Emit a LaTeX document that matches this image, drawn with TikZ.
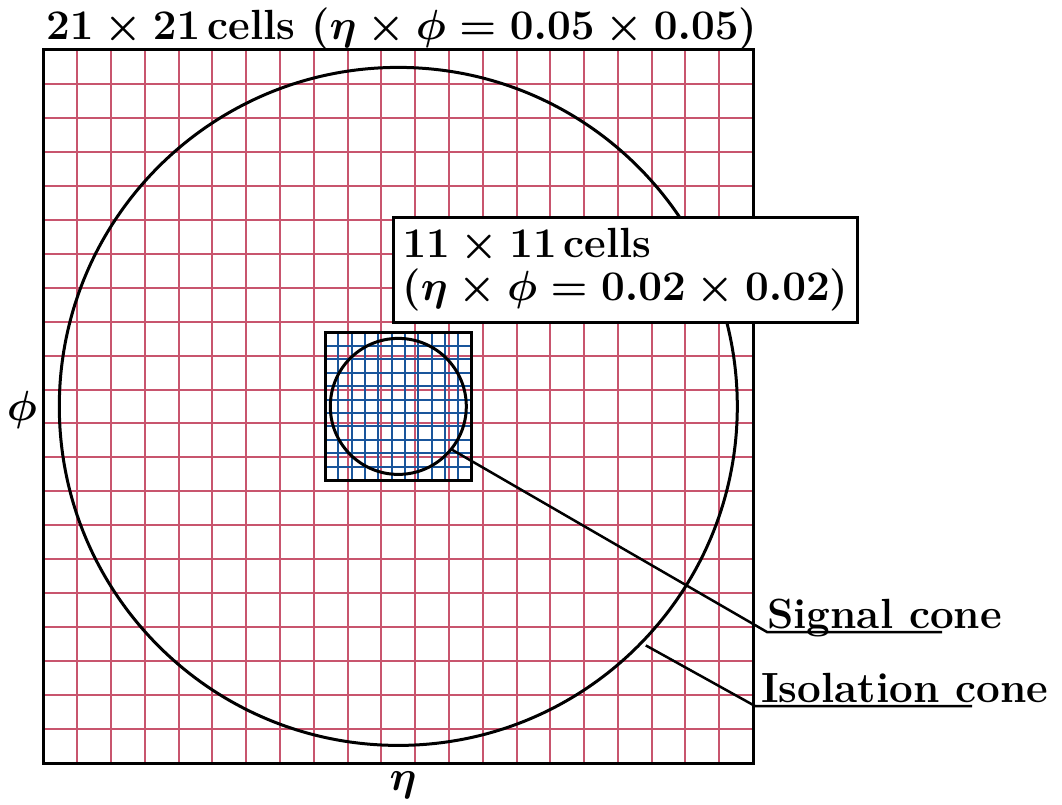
\RequirePackage{fix-cm}
\documentclass[tikz,border=0pt]{standalone}
\DeclareMathSizes{42.2}{42.2}{29.5}{21}
\usetikzlibrary{calc}
\definecolor{gridred}{RGB}{200,85,110}
\definecolor{gridblue}{RGB}{25,85,155}
\begin{document}
\begin{tikzpicture}[x=1pt,y=-1pt,
  redline/.style={draw=gridred,line width=2pt},
  blueline/.style={draw=gridblue,line width=2pt},
  blackline/.style={draw=black,line width=3pt},
  lbl/.style={font=\fontsize{42.2}{43}\selectfont\bfseries\boldmath,inner sep=0pt},
  cone/.style={circle,draw=black,line width=3pt,inner sep=0pt,outer sep=0pt}]
\useasboundingbox (0,0) rectangle (1062,805);
% outer grid
\coordinate (ob) at (43.5,50);
\coordinate (oe) at (753,763);
\coordinate (c) at (398.3,406.4);
\foreach \i in {1,...,20}{
  \draw[redline] ({43.5+\i*709.5/21},50) -- ({43.5+\i*709.5/21},763);
  \draw[redline] (43.5,{50+\i*713/21}) -- (753,{50+\i*713/21});
}
% inner grid
\foreach \i in {1,...,10}{
  \draw[blueline] ({325+\i*146.7/11},332.7) -- ({325+\i*146.7/11},480);
  \draw[blueline] (325,{332.7+\i*147.3/11}) -- (471.7,{332.7+\i*147.3/11});
}
\draw[blackline] (325,332.7) rectangle (471.7,480);
\draw[blackline] (ob) rectangle (oe);
% cones
\node[cone,minimum size=678pt] (iso) at (c) {};
\node[cone,minimum size=136pt] (sig) at (c) {};
% labels
\node[lbl,anchor=base west] (title) at (46,40) {$21\times21$\,cells ($\eta\times\phi=0.05\times0.05$)};
\node[lbl] (phi) at (22,410) {$\phi$};
\node[lbl] (eta) at (403,785) {$\eta$};
\node[lbl,draw=black,fill=white,line width=3pt,align=left,anchor=north west,inner xsep=9pt,inner ysep=11pt] (box) at (392,216) {$11\times11$\,cells\\($\eta\times\phi=0.02\times0.02$)};
% connectors
\coordinate (sigk) at (767,632);
\coordinate (isok) at (755,706);
\coordinate (isostart) at ($(c)!1.015!(iso.-44)$);
\node[lbl,anchor=base west] (siglab) at (767,628) {Signal cone};
\node[lbl,anchor=base west] (isolab) at (761,702) {Isolation cone};
\draw[blackline,line width=2.5pt] (sig.-39) -- (sigk) -- ++(175,0);
\draw[blackline,line width=2.5pt] (isostart) -- (isok) -- ++(217,0);
\end{tikzpicture}
\end{document}
